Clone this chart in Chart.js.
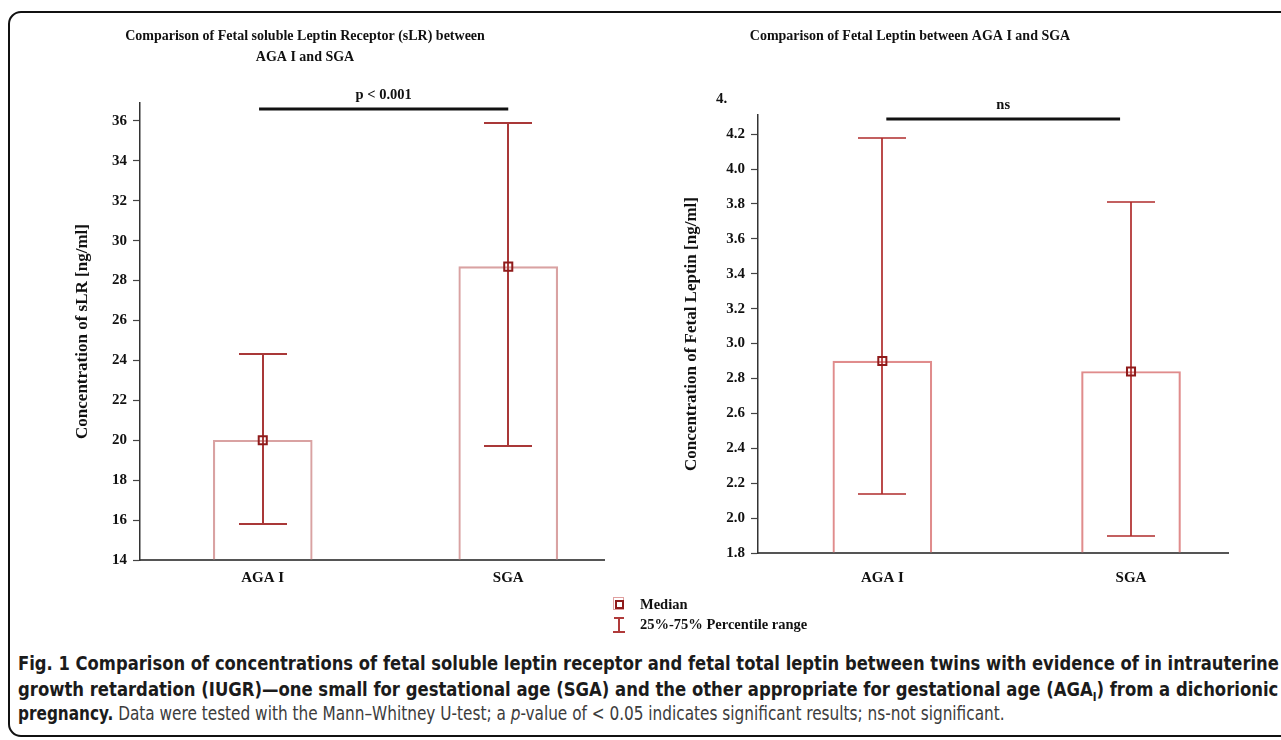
<!DOCTYPE html>
<html>
<head>
<meta charset="utf-8">
<script src="https://cdn.jsdelivr.net/npm/chart.js@4.4.0/dist/chart.umd.min.js"></script>
<style>
  body { margin: 0; background: #fff; width: 1281px; height: 740px; overflow: hidden; position: relative; font-family: "Liberation Serif", "Times New Roman", serif; }
  #frame { position: absolute; left: 8px; top: 11px; width: 1330px; height: 722px; border: 2.5px solid #111; border-radius: 13px; }
  canvas { position: absolute; top: 0; }
  #slr { left: 0; }
  #leptin { left: 640px; }
  .leg { position: absolute; left: 640px; font-weight: bold; font-size: 14.5px; color: #111; line-height: 15px; }
  .ico-med { position: absolute; left: 613px; top: 597px; width: 9px; height: 11px; border: 1.5px solid #e0a0a0; }
  .ico-med div { position: absolute; left: 1px; top: 2px; width: 5px; height: 5px; border: 2px solid #8f1b1b; }
  .ico-pct { position: absolute; left: 613px; top: 617px; width: 12px; height: 15px; }
  .ico-pct span { position: absolute; background: #b03a3a; }
  .cap { position: absolute; left: 18px; white-space: nowrap; transform-origin: 0 50%; font-family: "DejaVu Sans Condensed", "Liberation Sans Narrow", "Open Sans", sans-serif; font-stretch: condensed; font-size: 19.5px; line-height: 24px; color: #1b1b1b; }
  .cap.b { font-weight: bold; }
  .cap.r { color: #3c3c3c; }
  .cap sub { font-size: 12px; }
</style>
</head>
<body>
<div id="frame"></div>
<canvas id="slr" width="640" height="600"></canvas>
<canvas id="leptin" width="641" height="600"></canvas>

<div class="ico-med"><div></div></div>
<div class="leg" style="top:597px">Median</div>
<div class="ico-pct">
  <span style="left:1px;top:0;width:10px;height:1.5px"></span>
  <span style="left:5px;top:0;width:1.5px;height:15px"></span>
  <span style="left:0;top:14px;width:12px;height:1.5px"></span>
</div>
<div class="leg" style="top:617px">25%-75% Percentile range</div>

<div class="cap b" data-w="1261" style="top:652px">Fig. 1 Comparison of concentrations of fetal soluble leptin receptor and fetal total leptin between twins with evidence of in intrauterine</div>
<div class="cap b" data-w="1260" style="top:678px">growth retardation (IUGR)—one small for gestational age (SGA) and the other appropriate for gestational age (AGA<sub>I</sub>) from a dichorionic</div>
<div class="cap r" data-w="987" style="top:702px"><b style="color:#1b1b1b">pregnancy.</b> Data were tested with the Mann–Whitney U-test; a <i>p</i>-value of &lt; 0.05 indicates significant results; ns-not significant.</div>

<script>
// ==== Data ====
const groups = ['AGA I', 'SGA'];
const groupPos = [1, 2];

// fetal soluble leptin receptor [ng/ml]
const slrMedian = [20.0, 28.7];
const slrQ1 = [15.8, 19.7];
const slrQ3 = [24.3, 35.9];

// fetal leptin [ng/ml]
const leptinMedian = [2.90, 2.84];
const leptinQ1 = [2.14, 1.90];
const leptinQ3 = [4.18, 3.81];

const slrTitle = ['Comparison of Fetal soluble Leptin Receptor (sLR) between', 'AGA I and SGA'];
const leptinTitle = ['Comparison of Fetal Leptin between AGA I and SGA'];

Chart.defaults.font.family = '"Liberation Serif", "Times New Roman", serif';
Chart.defaults.font.weight = 'bold';
Chart.defaults.color = '#111';

// ==== Chart builder ====
function buildChart(canvasId, cfg) {
  const overlay = {
    id: 'overlay',
    // whiskers go between the box and the median marker
    afterDatasetDraw(chart, args) {
      if (args.index !== 0) return;
      const { ctx, scales: { x, y } } = chart;
      ctx.save();
      ctx.strokeStyle = cfg.whiskerColor;
      ctx.lineWidth = cfg.whiskerWidth;
      groupPos.forEach((g, i) => {
        const px = Math.round(x.getPixelForValue(g));
        const top = Math.round(y.getPixelForValue(cfg.q3[i]));
        const bot = Math.round(y.getPixelForValue(cfg.q1[i]));
        ctx.beginPath();
        ctx.moveTo(px, top); ctx.lineTo(px, bot);
        ctx.moveTo(px - 24, top); ctx.lineTo(px + 24, top);
        ctx.moveTo(px - 24, bot); ctx.lineTo(px + 24, bot);
        ctx.stroke();
      });
      ctx.restore();
    },
    afterDraw(chart) {
      const { ctx, scales: { x, y } } = chart;
      ctx.save();
      ctx.fillStyle = '#111';
      ctx.textAlign = 'center';
      ctx.textBaseline = 'middle';
      ctx.font = 'bold 14px "Liberation Serif"';
      cfg.title.forEach((t, i) => ctx.fillText(t, cfg.titleX, 36 + i * 21));

      // significance bracket
      const x0 = x.getPixelForValue(cfg.sigFrom);
      const x1 = x.getPixelForValue(cfg.sigTo);
      const sy = Math.round(y.getPixelForValue(cfg.sigAt));
      ctx.fillRect(x0, sy - 1.5, x1 - x0, 3);
      ctx.font = 'bold 14.5px "Liberation Serif"';
      ctx.fillText(cfg.sigText, (x0 + x1) / 2, sy - 14);

      if (cfg.extraTick) {
        ctx.textAlign = 'left';
        ctx.font = 'bold 15px "Liberation Serif"';
        ctx.fillText(cfg.extraTick.text, cfg.extraTick.x, y.getPixelForValue(cfg.extraTick.value));
      }
      ctx.restore();
    }
  };

  return new Chart(document.getElementById(canvasId), {
    type: 'bar',
    data: {
      datasets: [{
        type: 'bar',
        data: groupPos.map((g, i) => ({ x: g, y: cfg.median[i] })),
        base: cfg.yMin,
        backgroundColor: 'rgba(0,0,0,0)',
        borderColor: cfg.boxColor,
        borderWidth: 1.5,
        barThickness: 99,
        order: 1
      }, {
        type: 'line',
        data: groupPos.map((g, i) => ({ x: g, y: cfg.median[i] })),
        showLine: false,
        pointStyle: 'rect',
        pointRadius: 5.7,
        pointBorderWidth: 2,
        pointBorderColor: '#8f1b1b',
        pointBackgroundColor: 'rgba(0,0,0,0)',
        order: 0
      }]
    },
    options: {
      responsive: false,
      animation: false,
      events: [],
      layout: { padding: { top: cfg.top, right: cfg.right, left: 0, bottom: 0 } },
      plugins: { legend: { display: false }, tooltip: { enabled: false } },
      scales: {
        x: {
          type: 'linear',
          offset: false,
          min: 0.5,
          max: 2.39,
          afterBuildTicks: s => { s.ticks = groupPos.map(v => ({ value: v })); },
          afterFit: s => { s.height = cfg.xHeight; },
          grid: { display: false, drawTicks: false },
          border: { color: '#555', width: 2 },
          ticks: {
            padding: cfg.xPad,
            font: { size: 15 },
            callback: v => groups[groupPos.indexOf(v)] || ''
          }
        },
        y: {
          min: cfg.yMin,
          max: cfg.yMax,
          afterFit: s => { s.width = cfg.left; },
          grid: { drawOnChartArea: false, tickLength: 7, color: '#444', tickWidth: 1.2 },
          border: { color: '#333', width: 1.5 },
          ticks: {
            stepSize: cfg.yStep,
            includeBounds: false,
            padding: 6,
            font: { size: 15 },
            callback: v => v.toFixed(cfg.decimals)
          },
          title: {
            display: true,
            text: cfg.yTitle,
            font: { size: 17 },
            padding: { top: cfg.yTitleX - 10.2, bottom: 0 }
          }
        }
      }
    },
    plugins: [overlay]
  });
}

// ==== Charts ====
buildChart('slr', {
  median: slrMedian, q1: slrQ1, q3: slrQ3,
  yMin: 14, yMax: 36.9, yStep: 2, decimals: 0,
  yTitle: 'Concentration of sLR [ng/ml]', yTitleX: 83,
  title: slrTitle, titleX: 305,
  sigFrom: 0.985, sigTo: 2.0, sigAt: 36.6, sigText: 'p < 0.001',
  boxColor: '#d9a2a2', whiskerColor: '#a93838', whiskerWidth: 2,
  top: 103, right: 36, left: 140, xHeight: 40, xPad: 9
});

buildChart('leptin', {
  median: leptinMedian, q1: leptinQ1, q3: leptinQ3,
  yMin: 1.8, yMax: 4.31, yStep: 0.2, decimals: 1,
  yTitle: 'Concentration of Fetal Leptin [ng/ml]', yTitleX: 52,
  title: leptinTitle, titleX: 270,
  sigFrom: 1.016, sigTo: 1.956, sigAt: 4.285, sigText: 'ns',
  extraTick: { text: '4.', value: 4.4, x: 76 },
  boxColor: '#e08c8c', whiskerColor: '#b02c2c', whiskerWidth: 1.7,
  top: 115, right: 53, left: 118, xHeight: 47, xPad: 16
});

// ==== Caption fit ====
document.querySelectorAll('.cap').forEach(el => {
  const w = el.scrollWidth;
  el.style.transform = `scaleX(${Number(el.dataset.w) / w})`;
});
</script>
</body>
</html>
